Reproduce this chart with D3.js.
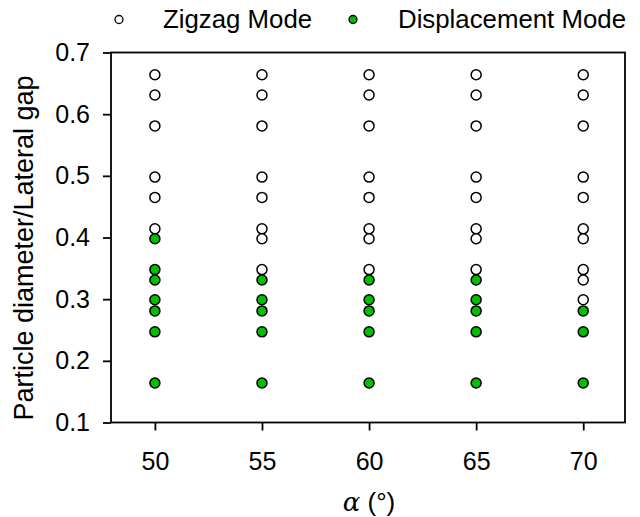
<!DOCTYPE html>
<html lang="en">
<head>
<meta charset="UTF-8">
<title>Zigzag vs displacement mode</title>
<script src="https://d3js.org/d3.v7.min.js"></script>
<style>
  html, body { margin: 0; padding: 0; background: #fff; }
  text { font-family: 'Liberation Sans', Arial, sans-serif; fill: #000; }
</style>
</head>
<body>
<div id="chart"></div>
<script>
// data
var angles = [50, 55, 60, 65, 70];
var yTicks = [0.1, 0.2, 0.3, 0.4, 0.5, 0.6, 0.7];

// particle diameter / lateral gap, one list per angle
var zigzag = [
  [0.664, 0.631, 0.581, 0.498, 0.465, 0.414],
  [0.664, 0.631, 0.581, 0.498, 0.465, 0.414, 0.398, 0.348],
  [0.664, 0.631, 0.581, 0.498, 0.465, 0.414, 0.398, 0.348],
  [0.664, 0.631, 0.581, 0.498, 0.465, 0.414, 0.398, 0.348],
  [0.664, 0.631, 0.581, 0.498, 0.465, 0.414, 0.398, 0.348, 0.331, 0.299]
];
var displacement = [
  [0.398, 0.348, 0.331, 0.299, 0.281, 0.247, 0.164],
  [0.331, 0.299, 0.281, 0.247, 0.164],
  [0.331, 0.299, 0.281, 0.247, 0.164],
  [0.331, 0.299, 0.281, 0.247, 0.164],
  [0.281, 0.247, 0.164]
];

var green = "#00bf00";

var svg = d3.select("#chart")
  .append("svg")
  .attr("width", 640)
  .attr("height", 517);

var x_scale = d3.scaleLinear()
  .domain([47.95, 71.95])
  .range([111, 625]);

var y_scale = d3.scaleLinear()
  .domain([0.1, 0.7])
  .range([422.5, 52.5]);

// x axis
var gx = svg.append("g")
  .attr("transform", "translate(0, 422.5)")
  .call(d3.axisBottom(x_scale).tickValues(angles).tickSize(8).tickPadding(22).tickSizeOuter(0));
gx.select(".domain").remove();
gx.selectAll("line").attr("stroke-width", 1.8);
gx.selectAll("text").style("font-size", "25px");

// y axis
var gy = svg.append("g")
  .attr("transform", "translate(111, 0)")
  .call(d3.axisLeft(y_scale).tickValues(yTicks).tickFormat(d3.format(".1f")).tickSize(8).tickPadding(13).tickSizeOuter(0));
gy.select(".domain").remove();
gy.selectAll("line").attr("stroke-width", 1.8);
gy.selectAll("text").style("font-size", "25px");

// frame
svg.append("rect")
  .attr("x", 111)
  .attr("y", 52.5)
  .attr("width", 625 - 111)
  .attr("height", 422.5 - 52.5)
  .attr("fill", "none")
  .attr("stroke", "#000")
  .attr("stroke-width", 1.8);

// axis titles
svg.append("text")
  .attr("transform", "translate(33, 248) rotate(-90)")
  .attr("text-anchor", "middle")
  .style("font-size", "27px")
  .text("Particle diameter/Lateral gap");

var xt = svg.append("text")
  .attr("x", 369)
  .attr("y", 511)
  .attr("text-anchor", "middle")
  .style("font-size", "26px");
xt.append("tspan")
  .style("font-family", "'DejaVu Serif', 'Liberation Serif', serif")
  .style("font-style", "italic")
  .text("\u03b1");
xt.append("tspan").text(" (\u00b0)");

// points
function flatten(lists) {
  var out = [];
  lists.forEach(function (vals, i) {
    vals.forEach(function (v) { out.push({ a: angles[i], v: v }); });
  });
  return out;
}

svg.append("g")
  .selectAll("circle")
  .data(flatten(zigzag))
  .enter()
  .append("circle")
  .attr("cx", function (d) { return x_scale(d.a); })
  .attr("cy", function (d) { return y_scale(d.v); })
  .attr("r", 5)
  .attr("fill", "#fff")
  .attr("stroke", "#000")
  .attr("stroke-width", 1.5);

svg.append("g")
  .selectAll("circle")
  .data(flatten(displacement))
  .enter()
  .append("circle")
  .attr("cx", function (d) { return x_scale(d.a); })
  .attr("cy", function (d) { return y_scale(d.v); })
  .attr("r", 5)
  .attr("fill", green)
  .attr("stroke", "#000")
  .attr("stroke-width", 1.5);

// legend
var legend = [
  { label: "Zigzag Mode", fill: "#fff", cx: 119, tx: 163 },
  { label: "Displacement Mode", fill: green, cx: 353, tx: 398 }
];
var lg = svg.append("g");
lg.selectAll("circle")
  .data(legend)
  .enter()
  .append("circle")
  .attr("cx", function (d) { return d.cx; })
  .attr("cy", 19.5)
  .attr("r", 4)
  .attr("fill", function (d) { return d.fill; })
  .attr("stroke", "#000")
  .attr("stroke-width", 1.3);
lg.selectAll("text")
  .data(legend)
  .enter()
  .append("text")
  .attr("x", function (d) { return d.tx; })
  .attr("y", 28)
  .style("font-size", "25.8px")
  .text(function (d) { return d.label; });
</script>
</body>
</html>
